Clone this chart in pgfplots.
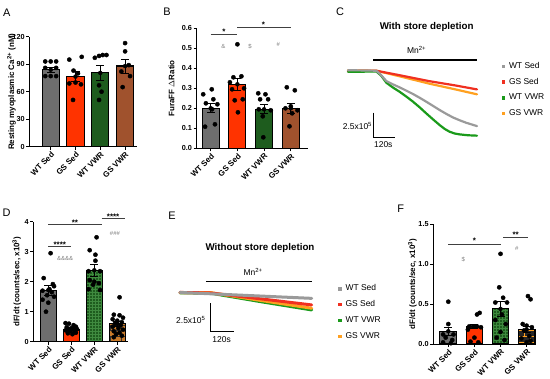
\documentclass[border=0pt]{standalone}
\usepackage{pgfplots}
\pgfplotsset{compat=1.18}
\usepackage{fontspec}
\setmainfont{Liberation Sans}
\usetikzlibrary{patterns}

\newcommand{\lbl}{\fontsize{8}{9.6}\selectfont\bfseries}
\newcommand{\tkl}{\fontsize{7.3}{8.8}\selectfont\bfseries}
\newcommand{\leg}{\fontsize{8.5}{10}\selectfont}
\newcommand{\ttl}{\fontsize{9.8}{11}\selectfont\bfseries}
\newcommand{\sigf}{\fontsize{6}{7}\selectfont}
\newcommand{\pl}{\fontsize{11}{13}\selectfont}

\definecolor{cgray}{HTML}{6E6E6E}
\definecolor{cred}{HTML}{FF3300}
\definecolor{cgreen}{HTML}{1E5C1E}
\definecolor{cbrown}{HTML}{A0522D}
\definecolor{corange}{HTML}{C87A2A}
\definecolor{tgray}{HTML}{9A9A9A}
\definecolor{tred}{HTML}{F03020}
\definecolor{tgreen}{HTML}{1A9A1A}
\definecolor{torange}{HTML}{FFA020}
\definecolor{sig}{HTML}{808080}
\definecolor{gridg}{HTML}{3F8A3F}

\pgfplotsset{
  barpanel/.style={
    scale only axis, clip=false,
    axis lines*=left,
    axis line style={line width=0.9bp, black},
    every tick/.style={black, line width=0.8bp},
    tick align=outside, major tick length=3bp,
    xtick={0,1,2,3},
    xticklabels={WT Sed,GS Sed,WT VWR,GS VWR},
    x tick label style={rotate=45, anchor=north east, inner sep=1bp, font=\lbl},
    y tick label style={font=\tkl, inner sep=1.5bp},
    /pgf/number format/assume math mode=true,
    ymin=0,
    ylabel style={font=\lbl, anchor=center},
  },
  bars/.style={ybar, bar shift=0pt, draw=black, line width=1.1bp},
  dots/.style={only marks, mark=*, mark size=2.1bp, black, mark options={solid, fill=black, draw=black}},
  ebars/.style={only marks, mark=none, forget plot,
    error bars/.cd, y dir=both, y explicit,
    error bar style={black, solid, line width=0.8bp},
    error mark options={black, rotate=90, mark size=4bp, line width=0.8bp}},
  trace/.style={no marks, line width=2.2bp, line join=round, line cap=round, forget plot},
  tracepanel/.style={scale only axis, clip=false, hide axis,
    legend cell align=left,
    legend image code/.code={\fill[##1] (0bp,-1.2bp) rectangle (2.4bp,1.2bp);},
    legend style={draw=none, fill=none, font=\leg, anchor=north west, row sep=6.8bp,
      inner sep=0pt, nodes={inner sep=0.5bp, text height=6.2bp, text depth=1.8bp},
      /tikz/every odd column/.append style={column sep=4bp}},
  },
}

\begin{document}
\begin{tikzpicture}
\path[use as bounding box] (0,0) rectangle (550bp,379bp);

% ---------------- Panel A ----------------
\begin{axis}[barpanel, at={(29.3bp,232.3bp)}, anchor=south west,
  width=107.7bp, height=110bp,
  xmin=-0.863, xmax=3.48, ymax=120, ytick={0,30,60,90,120},
  ylabel={Resting myoplasmic Ca\textsuperscript{2+} (nM)},
  ylabel style={at={(axis description cs:-0.165,0.5)}},
  bar width=0.69]
\addplot[bars, fill=cgray] coordinates {(0,84)};
\addplot[bars, fill=cred] coordinates {(1,76.5)};
\addplot[bars, fill=cgreen] coordinates {(2,80.5)};
\addplot[bars, fill=cbrown] coordinates {(3,88)};
\addplot[ebars] coordinates {(0,84) +- (0,3) (1,76.5) +- (0,5.5) (2,80.5) +- (0,8.5) (3,88) +- (0,7.5)};
\addplot[dots] coordinates {
 (-0.22,93) (0,93) (0.22,93) (-0.22,86) (0.22,86) (-0.22,77) (0,77) (0.22,77)
 (0.75,95) (1.25,98) (0.92,83) (1.1,80) (0.75,69) (1.0,70) (1.22,68) (0.9,51)
 (1.78,97) (1.95,99) (2.1,100) (2.25,100) (1.95,67) (2.05,60) (1.95,51)
 (3.0,113) (3.0,104) (2.85,82) (3.2,77) (3.15,89) (2.9,65)};
\end{axis}

% ---------------- Panel B ----------------
\begin{axis}[barpanel, at={(196.7bp,230.7bp)}, anchor=south west,
  width=111.6bp, height=120bp,
  xmin=-0.524, xmax=3.655, ymax=0.6, ytick={0,0.1,0.2,0.3,0.4,0.5,0.6},
  yticklabel style={/pgf/number format/.cd, fixed, fixed zerofill, precision=1},
  ylabel={FuraFF $\Delta$Ratio},
  ylabel style={at={(axis description cs:-0.225,0.5)}},
  bar width=0.64]
\addplot[bars, fill=cgray] coordinates {(0,0.20)};
\addplot[bars, fill=cred] coordinates {(1,0.32)};
\addplot[bars, fill=cgreen] coordinates {(2,0.195)};
\addplot[bars, fill=cbrown] coordinates {(3,0.20)};
\addplot[ebars] coordinates {(0,0.20) +- (0,0.022) (1,0.32) +- (0,0.03) (2,0.195) +- (0,0.022) (3,0.20) +- (0,0.025)};
\addplot[dots] coordinates {
 (0.04,0.295) (-0.28,0.27) (0.1,0.245) (-0.18,0.225) (0.25,0.22) (0.05,0.195) (-0.21,0.108) (0.16,0.12)
 (1.0,0.52) (0.85,0.355) (1.15,0.36) (0.72,0.33) (0.8,0.295) (1.25,0.30) (1.2,0.245) (0.9,0.24) (1.02,0.18)
 (1.78,0.275) (2.05,0.27) (1.85,0.245) (2.15,0.245) (1.8,0.195) (2.25,0.19) (1.95,0.16) (1.97,0.055)
 (2.85,0.305) (3.15,0.29) (2.8,0.2) (3.0,0.21) (3.25,0.19) (3.05,0.175) (2.95,0.11)};
\draw[line width=0.8bp, black!75] (axis cs:0,0.571) -- (axis cs:1,0.571);
\node[font=\lbl, anchor=base] at (axis cs:0.5,0.571) {*};
\draw[line width=0.8bp, black!75] (axis cs:1,0.603) -- (axis cs:3,0.603);
\node[font=\lbl, anchor=base] at (axis cs:1.97,0.603) {*};
\node[font=\sigf, text=sig] at (axis cs:0.47,0.508) {\&};
\node[font=\sigf, text=sig] at (axis cs:1.47,0.508) {\$};
\node[font=\sigf, text=sig] at (axis cs:2.53,0.517) {\#};
\end{axis}

% ---------------- Panel C ----------------
\begin{axis}[tracepanel, at={(348bp,239.4bp)}, anchor=south west,
  width=129bp, height=73.8bp, xmin=0, xmax=720, ymin=-7, ymax=0.5,
  legend style={at={(1.19,1.06)}}]
\addplot[trace, torange] coordinates {(0,0.05) (80,0.02) (158,0) (300,-0.62) (450,-1.3) (600,-1.9) (720,-2.4)};
\addplot[trace, tred] coordinates {(0,-0.05) (80,0) (158,0) (300,-0.5) (450,-1.05) (600,-1.5) (720,-1.9)};
\addplot[trace, tgreen] coordinates {(0,-0.12) (80,-0.1) (158,-0.07) (185,-0.5) (214,-1.22) (250,-1.7) (288,-2.14) (325,-2.62) (363,-3.15) (400,-3.72) (437,-4.34) (475,-4.95) (512,-5.53) (540,-5.92) (567,-6.2) (595,-6.38) (623,-6.47) (670,-6.56) (720,-6.6)};
\addplot[trace, tgray] coordinates {(0,0.05) (80,0.03) (158,0) (180,-0.35) (214,-1.05) (250,-1.38) (288,-1.69) (325,-2.02) (363,-2.37) (400,-2.75) (437,-3.15) (475,-3.58) (512,-4.0) (550,-4.4) (586,-4.75) (625,-5.05) (660,-5.29) (720,-5.63)};
\addlegendimage{color=tgray}\addlegendentry{WT Sed}
\addlegendimage{color=tred}\addlegendentry{GS Sed}
\addlegendimage{color=tgreen}\addlegendentry{WT VWR}
\addlegendimage{color=torange}\addlegendentry{GS VWR}
\node[font=\ttl] at (axis cs:439,4.44) {With store depletion};
\node[font=\leg] at (axis cs:383,2.1) {Mn\textsuperscript{2+}};
\draw[line width=1.2bp, black] (axis cs:140,1.09) -- (axis cs:720,1.09);
\draw[line width=1bp, black] (axis cs:141,-4.27) -- (axis cs:141,-6.77) -- (axis cs:261,-6.77);
\node[font=\leg, anchor=east, inner sep=0.5bp] at (axis cs:138,-5.6) {2.5x10\textsuperscript{5}};
\node[font=\leg] at (axis cs:197,-7.55) {120s};
\end{axis}

% ---------------- Panel D ----------------
\begin{axis}[barpanel, at={(33.3bp,37.3bp)}, anchor=south west,
  width=95bp, height=120bp,
  xmin=-0.652, xmax=3.48, ymax=4, ytick={0,1,2,3,4},
  ylabel={dF/dt (counts/sec, x10\textsuperscript{3})},
  ylabel style={at={(axis description cs:-0.175,0.5)}},
  bar width=0.7]
\addplot[bars, fill=cgray] coordinates {(0,1.72)};
\addplot[bars, fill=cred] coordinates {(1,0.42)};
\addplot[bars, fill=cgreen, postaction={pattern=grid, pattern color=gridg}] coordinates {(2,2.38)};
\addplot[bars, fill=corange, postaction={pattern=bricks, pattern color=black!80}] coordinates {(3,0.6)};
\addplot[ebars] coordinates {(0,1.72) +- (0,0.17) (1,0.42) +- (0,0.05) (2,2.38) +- (0,0.2) (3,0.6) +- (0,0.08)};
\addplot[dots] coordinates {
 (0.1,2.95) (-0.2,2.12) (0.2,1.92) (0.25,1.85) (-0.25,1.7) (0.15,1.65) (-0.05,1.55) (0.25,1.5) (-0.25,1.4) (0,1.3) (-0.1,1.0) (0.05,1.75)
 (0.75,0.62) (0.9,0.6) (1.1,0.55) (1.2,0.5) (0.8,0.48) (1.0,0.45) (1.25,0.42) (0.75,0.38) (0.95,0.35) (1.15,0.32) (0.85,0.28) (1.05,0.25) (1.2,0.3) (0.9,0.42) (1.1,0.4)
 (2.1,3.48) (1.8,3.05) (2.05,2.9) (2.05,2.7) (1.75,2.35) (2.25,2.35) (1.8,2.05) (2.0,2.0) (2.2,1.95) (1.95,1.9) (1.75,1.75) (2.25,1.72)
 (3.1,1.48) (2.85,0.9) (3.1,0.88) (3.25,0.8) (2.8,0.75) (3.0,0.7) (3.2,0.65) (2.9,0.6) (3.15,0.55) (2.8,0.5) (3.05,0.45) (3.25,0.4) (2.85,0.35) (3.1,0.3) (2.95,0.25) (3.2,0.2) (2.85,0.15)};
\draw[line width=0.8bp, black!75] (axis cs:0,3.19) -- (axis cs:1,3.19);
\node[font=\lbl, anchor=base, yshift=-1bp] at (axis cs:0.5,3.19) {****};
\draw[line width=0.8bp, black!75] (axis cs:0,3.91) -- (axis cs:2.32,3.91);
\node[font=\lbl, anchor=base, yshift=-1bp] at (axis cs:1.16,3.91) {**};
\draw[line width=0.8bp, black!75] (axis cs:2.32,4.11) -- (axis cs:3.33,4.11);
\node[font=\lbl, anchor=base, yshift=-1bp] at (axis cs:2.82,4.11) {****};
\node[font=\sigf, text=sig] at (axis cs:0.73,2.76) {\&\&\&\&};
\node[font=\sigf, text=sig] at (axis cs:2.9,3.61) {\#\#\#};
\end{axis}

% ---------------- Panel E ----------------
\begin{axis}[tracepanel, at={(180bp,40.9bp)}, anchor=south west,
  width=131.7bp, height=51.1bp, xmin=0, xmax=680, ymin=-4, ymax=0.5,
  legend style={at={(1.2,1.06)}}]
\addplot[trace, line width=3bp, tgreen] coordinates {(0,-0.02) (80,-0.03) (160,-0.05) (420,-0.8) (680,-1.52)};
\addplot[trace, line width=3bp, torange] coordinates {(0,0) (80,0) (160,0) (420,-0.69) (680,-1.37)};
\addplot[trace, line width=3bp, tred] coordinates {(0,0.02) (80,0) (160,-0.03) (420,-0.55) (680,-1.08)};
\addplot[trace, line width=3bp, tgray] coordinates {(0,0.02) (80,-0.04) (160,-0.1) (420,-0.3) (680,-0.5)};
\addlegendimage{color=tgray}\addlegendentry{WT Sed}
\addlegendimage{color=tred}\addlegendentry{GS Sed}
\addlegendimage{color=tgreen}\addlegendentry{WT VWR}
\addlegendimage{color=torange}\addlegendentry{GS VWR}
\node[font=\ttl] at (axis cs:413,3.91) {Without store depletion};
\node[font=\leg] at (axis cs:377,1.85) {Mn\textsuperscript{2+}};
\draw[line width=1.2bp, black] (axis cs:134,0.97) -- (axis cs:680,0.97);
\draw[line width=1bp, black] (axis cs:158.5,-0.94) -- (axis cs:158.5,-3.44) -- (axis cs:278.5,-3.44);
\node[font=\leg, anchor=east, inner sep=0.5bp] at (axis cs:135,-2.41) {2.5x10\textsuperscript{5}};
\node[font=\leg] at (axis cs:215,-4.1) {120s};
\end{axis}

% ---------------- Panel F ----------------
\begin{axis}[barpanel, at={(433.3bp,35bp)}, anchor=south west,
  width=101.7bp, height=119.7bp,
  xmin=-0.574, xmax=3.32, ymax=1.5, ytick={0,0.5,1.0,1.5},
  yticklabel style={/pgf/number format/.cd, fixed, fixed zerofill, precision=1},
  ylabel={dF/dt (counts/sec, x10\textsuperscript{3})},
  ylabel style={at={(axis description cs:-0.205,0.5)}},
  bar width=0.64]
\addplot[bars, fill=cgray] coordinates {(0,0.16)};
\addplot[bars, fill=cred] coordinates {(1,0.22)};
\addplot[bars, fill=cgreen, postaction={pattern=grid, pattern color=gridg}] coordinates {(2,0.44)};
\addplot[bars, fill=black!85, postaction={pattern=bricks, pattern color=torange}] coordinates {(3,0.18)};
\addplot[ebars] coordinates {(0,0.16) +- (0,0.05) (1,0.22) +- (0,0.02) (2,0.44) +- (0,0.09) (3,0.18) +- (0,0.04)};
\addplot[dots] coordinates {
 (0.0,0.53) (0.0,0.25) (-0.2,0.12) (0.2,0.12) (-0.1,0.08) (0.15,0.05) (-0.2,0.02) (0.1,0.01)
 (1.2,0.39) (1.1,0.37) (0.8,0.22) (0.95,0.22) (1.1,0.22) (1.25,0.21) (0.75,0.18) (1.0,0.08) (0.85,0.03) (1.15,0.02)
 (2.0,1.13) (1.95,0.71) (2.1,0.58) (1.8,0.52) (2.25,0.52) (2.05,0.37) (1.8,0.3) (2.2,0.25) (2.0,0.15) (1.85,0.08) (2.15,0.05)
 (3.05,0.6) (3.15,0.56) (2.85,0.25) (3.0,0.23) (3.2,0.21) (2.9,0.17) (3.1,0.1) (2.8,0.07) (3.15,0.04) (3.0,0.02)};
\draw[line width=0.8bp, black!75] (axis cs:0,1.254) -- (axis cs:2,1.254);
\node[font=\lbl, anchor=base] at (axis cs:1,1.254) {*};
\draw[line width=0.8bp, black!75] (axis cs:2.1,1.333) -- (axis cs:3.06,1.333);
\node[font=\lbl, anchor=base] at (axis cs:2.58,1.333) {**};
\node[font=\sigf, text=sig] at (axis cs:0.57,1.053) {\$};
\node[font=\sigf, text=sig] at (axis cs:2.62,1.2) {\#};
\end{axis}

% panel letters
\node[font=\pl] at (6.7bp,366.3bp) {A};
\node[font=\pl] at (167bp,367.3bp) {B};
\node[font=\pl] at (340bp,367.3bp) {C};
\node[font=\pl] at (6.7bp,166bp) {D};
\node[font=\pl] at (172bp,163bp) {E};
\node[font=\pl] at (400.7bp,170.7bp) {F};
\end{tikzpicture}
\end{document}
